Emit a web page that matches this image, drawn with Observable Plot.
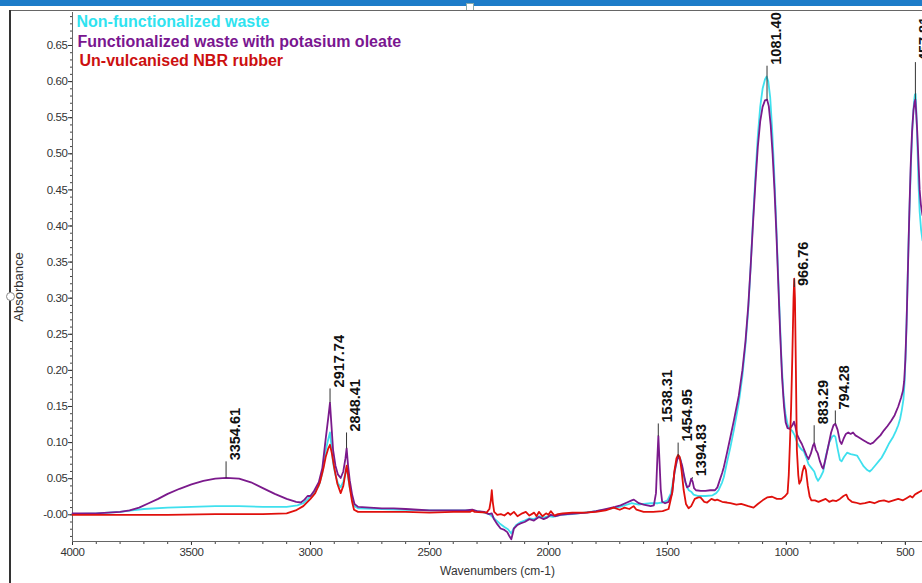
<!DOCTYPE html>
<html>
<head>
<meta charset="utf-8">
<script src="https://cdn.jsdelivr.net/npm/d3@7"></script>
<script src="https://cdn.jsdelivr.net/npm/@observablehq/plot@0.6"></script>
<style>
html, body { margin: 0; padding: 0; background: #fff; overflow: hidden; width: 922px; height: 583px; }
#wrap { position: relative; width: 922px; height: 583px; }
#chart { position: absolute; left: 0; top: 0; }
.chrome { position: absolute; z-index: 2; }
#chart svg g[aria-label$="tick label"] text { letter-spacing: -0.4px; }
</style>
</head>
<body>
<div id="wrap">
  <div id="chart"></div>
  <div class="chrome" style="left:0;top:0;width:922px;height:6px;background:#1d7cc9;"></div>
  <div class="chrome" style="left:466px;top:3px;width:6px;height:6px;background:#fff;border:1px solid #8aa;"></div>
  <div class="chrome" style="left:10px;top:10px;width:912px;height:1px;background:#666;"></div>
  <div class="chrome" style="left:9px;top:10px;width:2px;height:573px;background:#333;"></div>
  <div class="chrome" style="left:6px;top:292px;width:7px;height:7px;border-radius:50%;background:#fff;border:1px solid #888;"></div>
</div>
<script>
// ---- Data (wavenumber cm-1, absorbance) ----
const nonFunctionalized = [
  [4000,0.001],[3900,0.002],[3800,0.004],[3750,0.006],[3700,0.008],[3600,0.010],[3500,0.011],[3400,0.012],
  [3300,0.012],[3200,0.011],[3100,0.011],[3055,0.013],[3030,0.016],[3010,0.022],[3000,0.026],[2985,0.030],
  [2965,0.040],[2950,0.058],[2936,0.089],[2925,0.105],[2918,0.114],[2912,0.095],[2905,0.072],[2895,0.055],
  [2885,0.044],[2873,0.038],[2862,0.046],[2853,0.058],[2848,0.066],[2842,0.052],[2835,0.038],[2825,0.022],
  [2815,0.012],[2800,0.009],[2700,0.008],[2600,0.007],[2500,0.006],[2400,0.006],[2320,0.006],[2280,0.004],
  [2250,0.001],[2238,-0.002],[2225,-0.006],[2205,-0.012],[2185,-0.017],[2170,-0.020],[2156,-0.026],[2148,-0.020],
  [2135,-0.014],[2117,-0.010],[2100,-0.008],[2080,-0.005],[2060,-0.006],[2040,-0.002],[2020,-0.004],[2000,-0.002],
  [1980,-0.003],[1950,0.000],[1900,0.001],[1850,0.003],[1800,0.005],[1750,0.008],[1700,0.011],[1670,0.014],
  [1650,0.016],[1620,0.014],[1600,0.015],[1570,0.016],[1540,0.016],[1520,0.017],[1500,0.020],[1485,0.030],
  [1470,0.058],[1460,0.076],[1454,0.082],[1446,0.078],[1438,0.066],[1430,0.052],[1420,0.040],[1410,0.034],
  [1400,0.032],[1390,0.028],[1370,0.026],[1340,0.026],[1310,0.027],[1295,0.030],[1285,0.034],[1270,0.045],
  [1263,0.052],[1250,0.072],[1235,0.094],[1221,0.117],[1200,0.155],[1185,0.192],[1172,0.235],[1160,0.285],
  [1150,0.345],[1140,0.410],[1130,0.470],[1120,0.525],[1110,0.565],[1100,0.590],[1090,0.603],[1083,0.607],
  [1076,0.600],[1068,0.578],[1060,0.535],[1052,0.480],[1044,0.415],[1036,0.345],[1028,0.275],[1020,0.210],
  [1012,0.165],[1004,0.140],[995,0.125],[985,0.119],[975,0.116],[965,0.110],[955,0.100],[945,0.094],
  [935,0.090],[927,0.088],[915,0.078],[907,0.070],[895,0.065],[883,0.060],[875,0.052],[867,0.047],
  [857,0.052],[845,0.060],[835,0.080],[820,0.100],[808,0.108],[800,0.110],[794,0.108],[785,0.092],
  [775,0.076],[768,0.074],[758,0.080],[745,0.086],[730,0.084],[715,0.083],[703,0.082],[690,0.075],
  [675,0.067],[660,0.062],[650,0.060],[640,0.063],[625,0.069],[610,0.075],[600,0.079],[585,0.088],
  [570,0.098],[553,0.107],[540,0.116],[530,0.124],[522,0.133],[515,0.145],[508,0.160],[503,0.185],
  [498,0.230],[493,0.290],[488,0.360],[482,0.430],[476,0.490],[470,0.540],[464,0.570],[460,0.582],
  [457,0.583],[454,0.560],[450,0.520],[445,0.460],[440,0.420],[434,0.395],[428,0.380]
];
const functionalized = [
  [4000,0.002],[3900,0.002],[3850,0.003],[3800,0.004],[3760,0.006],[3720,0.010],[3680,0.016],[3640,0.022],
  [3600,0.029],[3550,0.036],[3500,0.042],[3450,0.047],[3400,0.050],[3354,0.051],[3300,0.050],[3250,0.045],
  [3200,0.037],[3150,0.029],[3100,0.022],[3060,0.018],[3040,0.017],[3025,0.021],[3012,0.026],[3000,0.026],
  [2985,0.033],[2965,0.045],[2950,0.065],[2936,0.105],[2925,0.135],[2918,0.155],[2912,0.125],[2905,0.090],
  [2895,0.068],[2885,0.056],[2873,0.051],[2862,0.060],[2853,0.078],[2848,0.092],[2842,0.068],[2835,0.048],
  [2825,0.028],[2815,0.015],[2800,0.011],[2750,0.010],[2700,0.009],[2650,0.009],[2600,0.008],[2550,0.007],
  [2500,0.006],[2450,0.006],[2400,0.006],[2350,0.006],[2320,0.007],[2300,0.005],[2270,0.004],[2250,0.001],
  [2238,0.002],[2229,-0.006],[2215,-0.013],[2201,-0.019],[2185,-0.021],[2173,-0.024],[2165,-0.029],[2156,-0.034],
  [2150,-0.026],[2145,-0.019],[2130,-0.014],[2117,-0.012],[2100,-0.010],[2080,-0.006],[2061,-0.008],[2040,-0.003],
  [2020,-0.006],[2005,-0.004],[1990,0.000],[1970,-0.002],[1949,0.000],[1920,0.001],[1880,0.002],[1837,0.003],
  [1800,0.005],[1760,0.008],[1720,0.011],[1697,0.013],[1670,0.017],[1650,0.020],[1641,0.021],[1620,0.016],
  [1600,0.014],[1570,0.012],[1557,0.013],[1548,0.030],[1542,0.080],[1538,0.109],[1534,0.080],[1528,0.035],
  [1522,0.018],[1510,0.016],[1495,0.018],[1480,0.030],[1470,0.060],[1460,0.075],[1454,0.080],[1446,0.077],
  [1438,0.068],[1431,0.056],[1424,0.045],[1417,0.038],[1408,0.040],[1400,0.050],[1394,0.046],[1388,0.037],
  [1380,0.034],[1360,0.033],[1340,0.033],[1320,0.034],[1300,0.034],[1290,0.038],[1280,0.048],[1270,0.058],
  [1263,0.066],[1250,0.085],[1235,0.108],[1221,0.130],[1200,0.165],[1185,0.200],[1172,0.240],[1160,0.290],
  [1150,0.345],[1140,0.405],[1130,0.460],[1120,0.510],[1110,0.545],[1100,0.565],[1090,0.574],[1081,0.575],
  [1074,0.566],[1066,0.540],[1058,0.500],[1050,0.450],[1042,0.390],[1034,0.320],[1026,0.250],[1018,0.190],
  [1010,0.150],[1003,0.128],[995,0.120],[985,0.119],[975,0.124],[968,0.129],[962,0.122],[955,0.111],
  [945,0.104],[935,0.098],[925,0.090],[915,0.082],[907,0.077],[897,0.085],[888,0.096],[883,0.099],
  [876,0.090],[868,0.085],[860,0.075],[850,0.066],[845,0.064],[835,0.078],[822,0.098],[812,0.114],
  [802,0.124],[794,0.126],[785,0.118],[775,0.102],[768,0.098],[760,0.105],[750,0.112],[740,0.114],
  [730,0.112],[720,0.114],[710,0.110],[700,0.108],[690,0.106],[675,0.103],[660,0.100],[647,0.098],
  [635,0.100],[620,0.105],[605,0.110],[590,0.117],[575,0.123],[560,0.130],[545,0.138],[530,0.150],
  [518,0.162],[510,0.172],[505,0.185],[500,0.215],[495,0.265],[490,0.330],[484,0.410],[478,0.480],
  [472,0.530],[466,0.560],[461,0.572],[458,0.575],[455,0.560],[450,0.530],[445,0.490],[440,0.450],
  [435,0.430],[428,0.415]
];
const nbrRubber = [
  [4000,0.000],[3800,0.000],[3600,0.000],[3400,0.001],[3200,0.001],[3100,0.002],[3062,0.006],[3030,0.012],
  [3000,0.022],[2980,0.030],[2960,0.045],[2945,0.065],[2936,0.080],[2925,0.092],[2918,0.097],[2910,0.085],
  [2900,0.065],[2887,0.043],[2873,0.030],[2862,0.040],[2853,0.058],[2848,0.068],[2842,0.055],[2835,0.038],
  [2825,0.018],[2817,0.007],[2800,0.004],[2700,0.004],[2600,0.004],[2500,0.003],[2400,0.004],[2330,0.004],
  [2320,0.006],[2310,0.004],[2260,0.003],[2248,0.008],[2242,0.020],[2238,0.034],[2234,0.018],[2228,0.004],
  [2215,0.000],[2200,0.001],[2185,-0.001],[2170,0.003],[2160,0.000],[2145,0.004],[2130,-0.002],[2110,0.002],
  [2095,0.004],[2080,-0.001],[2060,0.003],[2050,-0.002],[2040,0.004],[2025,-0.002],[2010,0.002],[2000,0.000],
  [1990,0.005],[1975,-0.001],[1960,0.001],[1940,0.002],[1900,0.003],[1850,0.003],[1800,0.004],[1760,0.006],
  [1726,0.010],[1700,0.007],[1680,0.010],[1660,0.008],[1642,0.012],[1630,0.007],[1600,0.004],[1560,0.004],
  [1520,0.005],[1495,0.008],[1480,0.030],[1470,0.062],[1462,0.078],[1455,0.083],[1448,0.080],[1440,0.060],
  [1432,0.035],[1422,0.015],[1411,0.009],[1400,0.012],[1385,0.022],[1370,0.024],[1361,0.024],[1345,0.018],
  [1333,0.017],[1315,0.022],[1300,0.020],[1291,0.021],[1270,0.018],[1250,0.017],[1235,0.016],[1210,0.014],
  [1190,0.015],[1160,0.012],[1138,0.010],[1120,0.015],[1100,0.020],[1081,0.024],[1060,0.025],[1040,0.022],
  [1020,0.022],[1005,0.026],[995,0.030],[990,0.055],[985,0.100],[980,0.150],[975,0.220],[970,0.300],
  [967,0.327],[964,0.300],[960,0.200],[956,0.090],[950,0.055],[946,0.043],[938,0.048],[932,0.060],
  [925,0.068],[918,0.062],[910,0.040],[902,0.025],[895,0.020],[880,0.020],[865,0.018],[850,0.020],
  [835,0.022],[820,0.018],[805,0.020],[790,0.019],[775,0.022],[760,0.026],[748,0.028],[740,0.022],
  [725,0.018],[710,0.017],[690,0.015],[670,0.016],[650,0.018],[630,0.016],[610,0.019],[590,0.020],
  [570,0.018],[550,0.020],[530,0.022],[510,0.020],[495,0.023],[480,0.026],[470,0.024],[460,0.028],
  [450,0.030],[440,0.032],[428,0.034]
];

// Peak annotations
const peakLabels = ["3354.61","2917.74","2848.41","1538.31","1454.95","1394.83","1081.40","966.76","883.29","794.28","457.81"];
const peakWavenumbers = [3354.61,2917.74,2848.41,1538.31,1454.95,1394.83,1081.40,966.76,883.29,794.28,457.81];
const peakAbsorbance = [0.051,0.155,0.092,0.109,0.080,0.050,0.575,0.327,0.099,0.126,0.575];
const labelAbsorbance = [0.074,0.175,0.114,0.1265,0.100,0.052,0.622,0.3155,0.124,0.1445,0.627];

// Series names / legend
const seriesNames = ["Non-functionalized waste","Functionalized waste with potasium oleate","Un-vulcanised NBR rubber"];
const seriesColors = ["#3fe0ee","#7b1a8c","#e0100c"];
const legendColors = ["#2fe3f0","#7a1690","#cc1010"];

// Axis ticks
const xTicks = [4000,3500,3000,2500,2000,1500,1000,500];
const yTicks = [0,0.05,0.10,0.15,0.20,0.25,0.30,0.35,0.40,0.45,0.50,0.55,0.60,0.65];
const xMinor = d3.range(4000, 499, -100);
const yMinor = d3.range(-3, 70).map(i => i / 100);

const toRows = (arr) => arr.map(([wn, a]) => ({wn, a}));
const peaks = peakLabels.map((label, i) => ({label, wn: peakWavenumbers[i], peakA: peakAbsorbance[i], labelA: labelAbsorbance[i]}));

const yMin = -0.037, yMax = 0.6957;
const font = "'Liberation Sans', Arial, Helvetica, sans-serif";

const chart = Plot.plot({
  width: 922,
  height: 583,
  marginLeft: 72,
  marginRight: 0,
  marginTop: 12,
  marginBottom: 42,
  style: {fontFamily: font, background: "transparent", color: "#333"},
  x: {domain: [4000, 428]},
  y: {domain: [yMin, yMax]},
  marks: [
    Plot.axisX({ticks: xMinor, tickSize: 3, tickFormat: () => "", label: null, stroke: "#444"}),
    Plot.axisX({ticks: xTicks, tickSize: 4, tickPadding: 2, fontSize: 11.5, label: null, stroke: "#333", fill: "#333",
      tickFormat: d => String(d)}),
    Plot.axisY({ticks: yMinor, tickSize: 2, tickFormat: () => "", label: null, stroke: "#444"}),
    Plot.axisY({ticks: yTicks, tickSize: 4, tickPadding: 1, fontSize: 11.5, label: null, stroke: "#333", fill: "#333",
      tickFormat: d => d === 0 ? "-0.00" : d.toFixed(2)}),
    Plot.ruleY([yMin], {stroke: "#666", strokeWidth: 1}),
    Plot.ruleX([4000], {stroke: "#666", strokeWidth: 1}),
    Plot.text(["Absorbance"], {frameAnchor: "left", dx: -54, dy: 10, rotate: -90, textAnchor: "middle", text: d => d,
      fontSize: 13, fill: "#333", style: "letter-spacing:-0.3px"}),
    Plot.text(["Wavenumbers (cm-1)"], {frameAnchor: "bottom", dy: 33, text: d => d, fontSize: 12, fill: "#333", style: "letter-spacing:-0.6px"}),
    Plot.line(toRows(nonFunctionalized), {x: "wn", y: "a", stroke: seriesColors[0], strokeWidth: 1.8}),
    Plot.line(toRows(functionalized), {x: "wn", y: "a", stroke: seriesColors[1], strokeWidth: 1.8}),
    Plot.line(toRows(nbrRubber), {x: "wn", y: "a", stroke: seriesColors[2], strokeWidth: 1.8}),
    Plot.link(peaks, {x1: "wn", x2: "wn", y1: "peakA", y2: "labelA", stroke: "#333", strokeWidth: 1}),
    Plot.text(peaks, {x: "wn", y: "labelA", text: "label", rotate: -90, textAnchor: "start", lineAnchor: "middle",
      dx: 9, dy: -1, fontSize: 14.5, fontWeight: "bold", fill: "#111"}),
    Plot.text([seriesNames[0]], {frameAnchor: "top-left", text: d => d, dx: 4, dy: 14, lineAnchor: "bottom", fontSize: 16, fontWeight: "bold", fill: legendColors[0]}),
    Plot.text([seriesNames[1]], {frameAnchor: "top-left", text: d => d, dx: 5, dy: 34, lineAnchor: "bottom", fontSize: 16, fontWeight: "bold", fill: legendColors[1]}),
    Plot.text([seriesNames[2]], {frameAnchor: "top-left", text: d => d, dx: 7, dy: 53, lineAnchor: "bottom", fontSize: 16, fontWeight: "bold", fill: legendColors[2]})
  ]
});
document.getElementById("chart").appendChild(chart);
</script>
</body>
</html>
